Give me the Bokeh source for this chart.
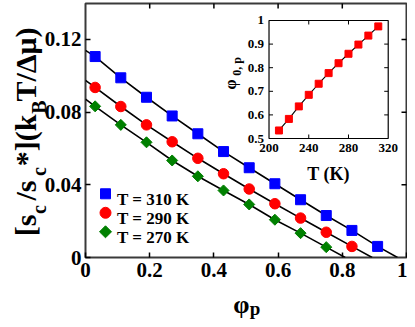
import math
from bokeh.plotting import figure
from bokeh.models import Range1d, FixedTicker
from bokeh.core.properties import value
from bokeh.embed import file_html
from bokeh.resources import INLINE

# ---------------- data ----------------
series_names = ["T = 310 K", "T = 290 K", "T = 270 K"]

phi_310 = [0.03, 0.11, 0.19, 0.27, 0.35, 0.43, 0.51, 0.59, 0.67, 0.75, 0.83, 0.91]
s_310 = [0.1106, 0.0989, 0.0882, 0.0779, 0.0681, 0.0583, 0.0494, 0.0406, 0.0318, 0.0231, 0.0149, 0.0061]

phi_290 = [0.03, 0.11, 0.19, 0.27, 0.35, 0.43, 0.51, 0.59, 0.67, 0.75, 0.83]
s_290 = [0.0936, 0.0831, 0.0730, 0.0637, 0.0546, 0.0461, 0.0377, 0.0296, 0.0217, 0.0139, 0.0061]

phi_270 = [0.03, 0.11, 0.19, 0.27, 0.35, 0.43, 0.51, 0.59, 0.67, 0.75]
s_270 = [0.0832, 0.0730, 0.0634, 0.0534, 0.0447, 0.0369, 0.0292, 0.0208, 0.0134, 0.0057]

# end points of the fitted curves (axis intercepts)
fit_start_310 = (0.0, 0.1140)
fit_end_310 = (0.972, 0.0)
fit_start_290 = (0.0, 0.0975)
fit_end_290 = (0.893, 0.0)
fit_start_270 = (0.0, 0.0872)
fit_end_270 = (0.809, 0.0)

# inset
inset_T = [210, 220, 230, 240, 250, 260, 270, 280, 290, 300, 310]
inset_phi0 = [0.534, 0.583, 0.636, 0.685, 0.732, 0.777, 0.819, 0.859, 0.898, 0.936, 0.975]

# ticks
x_ticks = [0, 0.2, 0.4, 0.6, 0.8, 1.0]
x_tick_labels = ["0", "0.2", "0.4", "0.6", "0.8", "1"]
y_ticks = [0, 0.04, 0.08, 0.12]
y_tick_labels = ["0", "0.04", "0.08", "0.12"]
inset_x_ticks = [200, 240, 280, 320]
inset_x_tick_labels = ["200", "240", "280", "320"]
inset_y_ticks = [0.5, 0.6, 0.7, 0.8, 0.9, 1.0]
inset_y_tick_labels = ["0.5", "0.6", "0.7", "0.8", "0.9", "1"]

# ---------------- styling / layout ----------------
FONT = "Liberation Serif"
BLUE, RED, GREEN = "#0000ff", "#ff0000", "#008000"

# frame: x 85..406, y 3..257 (pixels in the figure)
p = figure(width=407, height=319,
           x_range=Range1d(0, 1), y_range=Range1d(0, 0.1398),
           min_border_left=85, min_border_right=1, min_border_top=3, min_border_bottom=62,
           output_backend="svg", toolbar_location=None)
p.extra_x_ranges = {"tx": Range1d(15.26, 338.4)}
p.extra_y_ranges = {"iy": Range1d(-0.0042, 1.072)}
p.grid.visible = False
p.outline_line_color = "#3a3a3a"
p.outline_line_width = 2
p.background_fill_color = "white"
p.border_fill_color = "white"

for ax in (p.xaxis[0], p.yaxis[0]):
    ax.axis_line_color = None
    ax.major_tick_in = 5
    ax.major_tick_out = 0
    ax.major_tick_line_width = 1.5
    ax.major_tick_line_color = "black"
    ax.minor_tick_line_color = None
    ax.major_label_text_font = FONT
    ax.major_label_text_font_style = "bold"
    ax.major_label_text_font_size = "21px"
    ax.major_label_text_color = "black"
p.xaxis.ticker = FixedTicker(ticks=x_ticks)
p.xaxis.major_label_overrides = dict(zip(x_ticks, x_tick_labels))
p.xaxis.major_label_standoff = 5
p.yaxis.ticker = FixedTicker(ticks=y_ticks)
p.yaxis.major_label_overrides = dict(zip(y_ticks, y_tick_labels))
p.yaxis.major_label_standoff = 4

# mirrored inward ticks on top and right (half clipped by the frame)
ytop = p.y_range.end
p.scatter(x_ticks[1:-1], [ytop] * (len(x_ticks) - 2), marker="dash", size=10, angle=math.pi / 2,
          line_color="black", line_width=1.5)
p.scatter([1.0] * (len(y_ticks) - 1), y_ticks[1:], marker="dash", size=10,
          line_color="black", line_width=1.5)

# fitted lines
for (x0, y0), xs, ys, (x1, y1) in [
        (fit_start_310, phi_310, s_310, fit_end_310),
        (fit_start_290, phi_290, s_290, fit_end_290),
        (fit_start_270, phi_270, s_270, fit_end_270)]:
    p.line([x0] + xs + [x1], [y0] + ys + [y1], line_color="black", line_width=1.6)

# markers
p.scatter(phi_310, s_310, marker="square", size=10, fill_color=BLUE, line_color=BLUE)
p.scatter(phi_290, s_290, marker="circle", size=10.5, fill_color=RED, line_color=RED)
p.scatter(phi_270, s_270, marker="square", angle=math.pi / 4, size=7.8, fill_color=GREEN, line_color=GREEN)


def dx(px):
    return (px - 85) / 321.0


def dy(py):
    return (257 - py) / 1816.7


# legend (manual)
leg_rows = [199.3, 218.3, 237.3]
leg_marker_y = [dy(r - 6) for r in leg_rows]
leg_x = dx(105)
p.scatter([leg_x], [leg_marker_y[0]], marker="square", size=10, fill_color=BLUE, line_color=BLUE)
p.scatter([leg_x], [leg_marker_y[1]], marker="circle", size=11, fill_color=RED, line_color=RED)
p.scatter([leg_x], [leg_marker_y[2]], marker="square", angle=math.pi / 4, size=8.5,
          fill_color=GREEN, line_color=GREEN)
p.text([dx(116.5)] * 3, [dy(r) for r in leg_rows], text=series_names,
       text_font=value(FONT), text_font_style="bold", text_font_size="17px",
       text_align="left", text_baseline="alphabetic", text_color="black")

# ---------------- inset ----------------
IR = dict(x_range_name="tx", y_range_name="iy")
p.quad(left=[inset_x_ticks[0]], right=[inset_x_ticks[-1]], bottom=[inset_y_ticks[0]], top=[inset_y_ticks[-1]],
       fill_color="white", line_color="black", line_width=1.2, **IR)
ix_in = inset_x_ticks[1:-1]
iy_in = inset_y_ticks[1:-1]
p.ray(ix_in, [inset_y_ticks[0]] * len(ix_in), length=4, length_units="screen", angle=math.pi / 2,
      line_color="black", line_width=1, **IR)
p.ray(ix_in, [inset_y_ticks[-1]] * len(ix_in), length=4, length_units="screen", angle=-math.pi / 2,
      line_color="black", line_width=1, **IR)
p.ray([inset_x_ticks[0]] * len(iy_in), iy_in, length=4, length_units="screen", angle=0,
      line_color="black", line_width=1, **IR)
p.ray([inset_x_ticks[-1]] * len(iy_in), iy_in, length=4, length_units="screen", angle=math.pi,
      line_color="black", line_width=1, **IR)
p.line(inset_T, inset_phi0, line_color="black", line_width=1.1, **IR)
p.scatter(inset_T, inset_phi0, marker="square", size=7, fill_color=RED, line_color=RED, **IR)

p.text(inset_x_ticks, [inset_y_ticks[0]] * len(inset_x_ticks), text=inset_x_tick_labels,
       text_font=value(FONT), text_font_style="bold", text_font_size="13px",
       text_align="center", text_baseline="top", y_offset=5, text_color="black", **IR)
p.text([inset_x_ticks[0]] * len(inset_y_ticks), inset_y_ticks, text=inset_y_tick_labels,
       text_font=value(FONT), text_font_style="bold", text_font_size="13px",
       text_align="right", text_baseline="middle", x_offset=-5, text_color="black", **IR)
p.text([260], [inset_y_ticks[0]], text=["T (K)"], text_font=value(FONT), text_font_style="bold",
       text_font_size="18px", text_align="center", text_baseline="alphabetic", y_offset=35.5,
       text_color="black", **IR)
p.text([inset_x_ticks[0]], [0.729], text=["φ"], angle=math.pi / 2, text_font=value(FONT),
       text_font_style="bold", text_font_size="16px", text_align="center", text_baseline="alphabetic",
       x_offset=-39, text_color="black", **IR)
p.text([inset_x_ticks[0]], [0.805], text=["0, p"], angle=math.pi / 2, text_font=value(FONT),
       text_font_style="bold", text_font_size="12px", text_align="center", text_baseline="alphabetic",
       x_offset=-32.5, text_color="black", **IR)

# ---------------- axis titles (with subscripts), drawn outside the frame ----------------
ylabel_parts = ["[s", "c", "/s", "c", "*](k", "B", "T/Δμ)"]
ylabel_center = [225, 209, 190, 171, 140, 106.5, 64]
ylabel_is_sub = [False, True, False, True, False, True, False]
for txt, cy, sub in zip(ylabel_parts, ylabel_center, ylabel_is_sub):
    p.text([dx(38 if sub else 25)], [dy(cy)], text=[txt], angle=math.pi / 2,
           text_font=value(FONT), text_font_style="bold",
           text_font_size="20px" if sub else "30px",
           text_align="center", text_baseline="alphabetic", text_color="black", level="overlay")

p.text([dx(240.8)], [dy(304)], text=["φ"], text_font=value(FONT), text_font_style="bold",
       text_font_size="26px", text_align="center", text_baseline="alphabetic",
       text_color="black", level="overlay")
p.text([dx(254.5)], [dy(308)], text=["p"], text_font=value(FONT), text_font_style="bold",
       text_font_size="19px", text_align="center", text_baseline="alphabetic",
       text_color="black", level="overlay")

open("out.html", "w").write(file_html(p, INLINE))
